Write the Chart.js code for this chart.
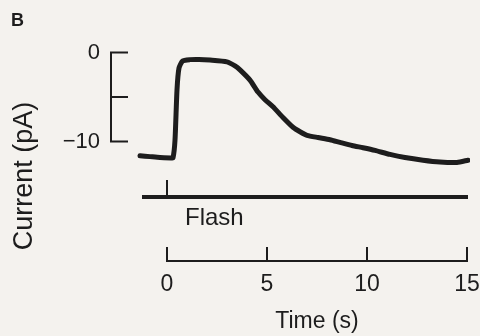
<!DOCTYPE html>
<html lang="en">
<head>
    <meta charset="UTF-8">
    <title>Flash response</title>
    <script src="https://cdn.jsdelivr.net/npm/chart.js"></script>
    <style>
        body {
            margin: 0;
            background: #f4f2ee;
        }
        #wrap {
            width: 480px;
            height: 336px;
        }
    </style>
</head>
<body>
    <div id="wrap"><canvas id="traceChart" width="480" height="336"></canvas></div>

    <script>
        // current trace
        const timeS = [-1.35, -0.85, -0.35, 0.2, 0.3, 0.4, 0.5, 0.6, 0.78, 1.15, 1.6, 2.15, 3.0, 3.4, 3.65,
            4.15, 4.55, 4.9, 5.3, 5.8, 6.3, 6.65, 7.0, 7.55, 8.15, 8.65, 9.25, 9.8, 10.4, 11.15,
            11.9, 12.8, 13.65, 14.5, 15.05];
        const currentPA = [-11.6, -11.7, -11.8, -11.85, -11.85, -9.85, -4.2, -1.75, -0.95, -0.8, -0.78, -0.85, -1.05, -1.5, -1.95,
            -3.1, -4.45, -5.3, -6.1, -7.3, -8.4, -8.9, -9.3, -9.55, -9.8, -10.1, -10.45, -10.7, -11.0, -11.45,
            -11.8, -12.1, -12.3, -12.35, -12.1];

        const timeTicks = [0, 5, 10, 15];
        const currentTicks = [0, -10];
        const currentBracket = [0, -5, -10];
        const flashSpan = [-1.25, 15.05];
        const flashAt = 0;

        const ink = '#1d1d1d';
        const font = '"Liberation Sans", Arial, Helvetica, sans-serif';
        const FLASH_LEVEL = -16.25;

        const brackets = {
            id: 'brackets',
            beforeDraw(chart) {
                const c = chart.ctx;
                c.save();
                c.fillStyle = '#f4f2ee';
                c.fillRect(0, 0, chart.width, chart.height);
                c.restore();
            },
            afterDraw(chart) {
                const c = chart.ctx;
                const xs = chart.scales.x, ys = chart.scales.y;
                const area = chart.chartArea;
                c.save();
                c.strokeStyle = ink;
                c.fillStyle = ink;
                c.lineWidth = 2;
                c.lineCap = 'butt';

                // current scale bar
                const bx = area.left - 19;
                c.beginPath();
                c.moveTo(bx, ys.getPixelForValue(currentBracket[0]));
                c.lineTo(bx, ys.getPixelForValue(currentBracket[currentBracket.length - 1]));
                currentBracket.forEach(v => {
                    const py = ys.getPixelForValue(v);
                    c.moveTo(bx - 1, py);
                    c.lineTo(area.left - 2, py);
                });
                c.stroke();

                // time scale bar
                const by = area.bottom;
                c.beginPath();
                c.moveTo(xs.getPixelForValue(timeTicks[0]), by);
                c.lineTo(xs.getPixelForValue(timeTicks[timeTicks.length - 1]), by);
                timeTicks.forEach(t => {
                    const px = xs.getPixelForValue(t);
                    c.moveTo(px, by + 1);
                    c.lineTo(px, by - 14);
                });
                c.stroke();

                // flash marker
                const fx = xs.getPixelForValue(flashAt);
                const fy = ys.getPixelForValue(FLASH_LEVEL);
                c.beginPath();
                c.moveTo(fx, fy);
                c.lineTo(fx, fy - 17);
                c.stroke();

                c.font = '24px ' + font;
                c.textAlign = 'left';
                c.textBaseline = 'alphabetic';
                c.fillText('Flash', fx + 18, fy + 28);

                c.font = '23px ' + font;
                c.textAlign = 'center';
                const mid = (xs.getPixelForValue(timeTicks[0]) + xs.getPixelForValue(timeTicks[timeTicks.length - 1])) / 2;
                c.fillText('Time (s)', mid, 328);

                c.font = 'bold 18px ' + font;
                c.textAlign = 'left';
                c.fillText('B', 11, 26);

                c.translate(32, 176);
                c.rotate(-Math.PI / 2);
                c.textAlign = 'center';
                c.font = '27px ' + font;
                c.fillText('Current (pA)', 0, 0);
                c.restore();
            }
        };

        new Chart(document.getElementById('traceChart'), {
            type: 'line',
            data: {
                datasets: [{
                    data: timeS.map((t, i) => ({x: t, y: currentPA[i]})),
                    borderColor: ink,
                    borderWidth: 5,
                    borderCapStyle: 'round',
                    borderJoinStyle: 'round',
                    pointRadius: 0,
                    tension: 0.2
                }, {
                    data: flashSpan.map(t => ({x: t, y: FLASH_LEVEL})),
                    borderColor: ink,
                    borderWidth: 4,
                    pointRadius: 0
                }]
            },
            options: {
                responsive: false,
                animation: false,
                devicePixelRatio: 1,
                layout: {padding: {top: 30, right: 10, left: 0, bottom: 0}},
                plugins: {legend: {display: false}, tooltip: {enabled: false}},
                scales: {
                    x: {
                        type: 'linear',
                        min: -1.85,
                        max: 15.15,
                        afterFit: s => { s.height = 75; s.paddingLeft = 0; s.paddingRight = 0; },
                        afterBuildTicks: s => { s.ticks = timeTicks.map(v => ({value: v})); },
                        grid: {display: false, drawTicks: false},
                        border: {display: false},
                        ticks: {color: ink, font: {family: font, size: 23}, padding: 10, maxRotation: 0}
                    },
                    y: {
                        type: 'linear',
                        min: -23.427,
                        max: 2.528,
                        afterFit: s => { s.width = 130; s.paddingTop = 0; s.paddingBottom = 0; },
                        afterBuildTicks: s => { s.ticks = currentTicks.map(v => ({value: v})); },
                        grid: {display: false, drawTicks: false},
                        border: {display: false},
                        ticks: {
                            color: ink,
                            font: {family: font, size: 22},
                            padding: 30,
                            callback: v => String(v).replace('-', '\u2212')
                        }
                    }
                }
            },
            plugins: [brackets]
        });
    </script>
</body>
</html>
